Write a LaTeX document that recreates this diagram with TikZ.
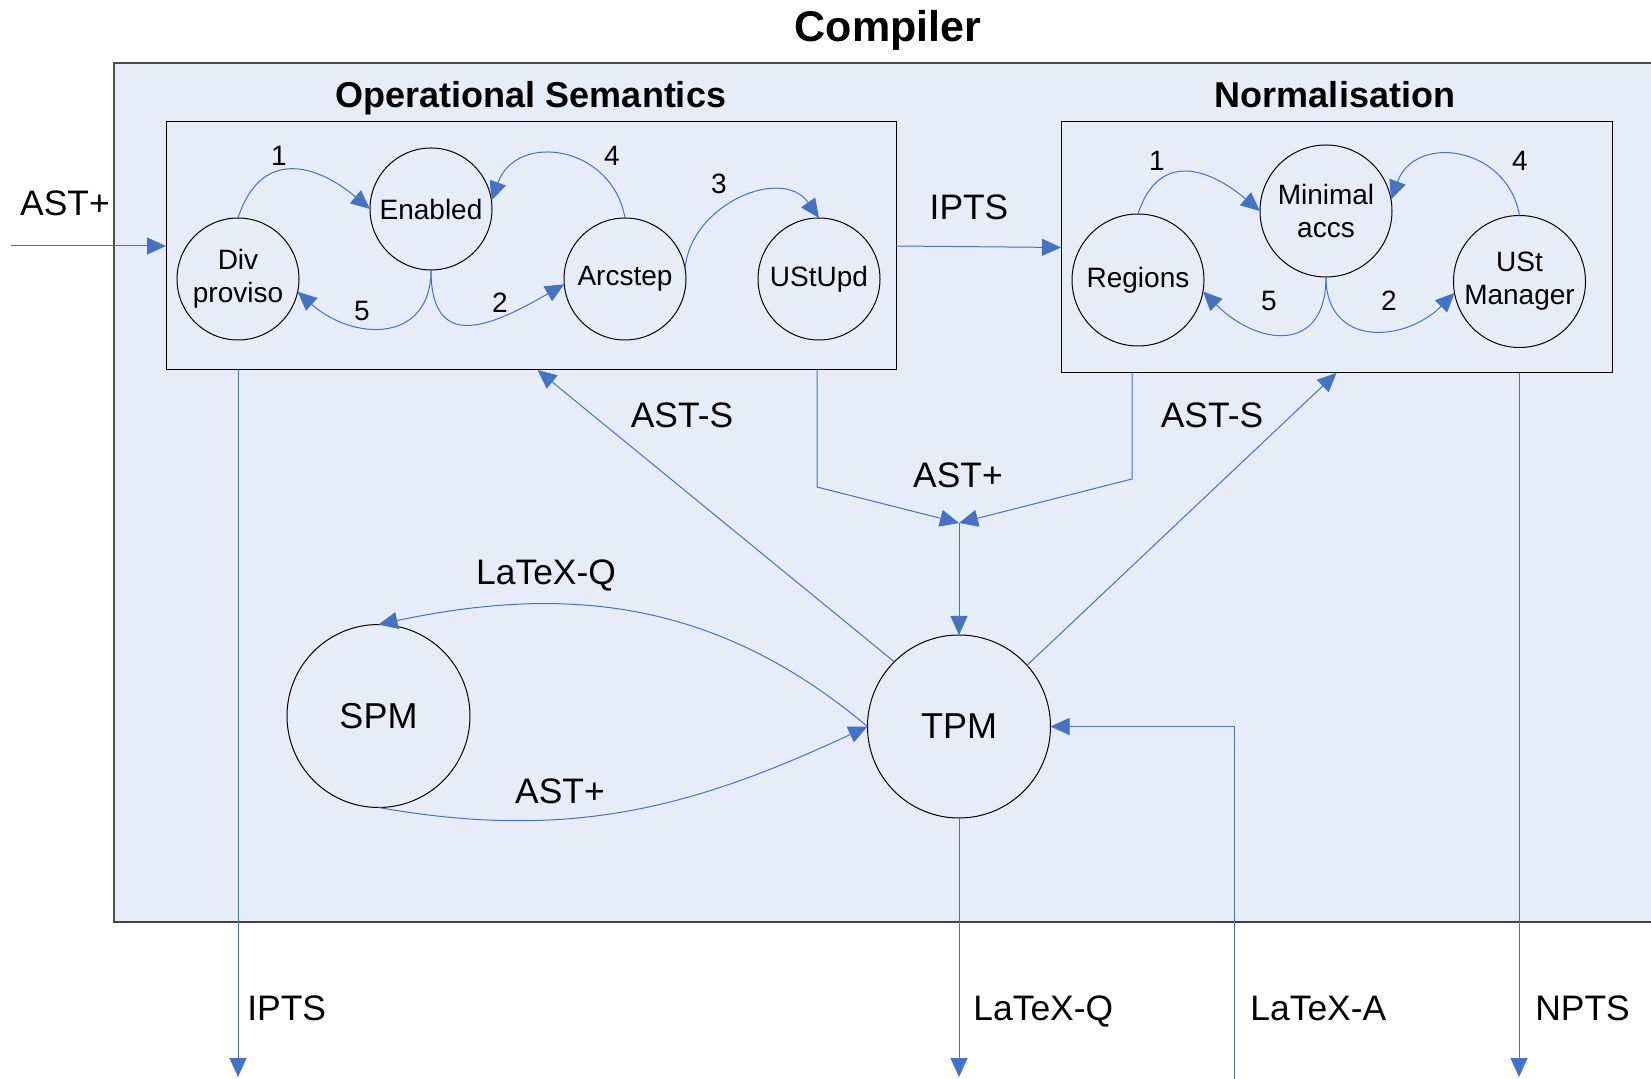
\documentclass[tikz,border=0pt]{standalone}
\usepackage{fontspec}
\setmainfont{Liberation Sans}
\usetikzlibrary{arrows.meta}
\definecolor{boxfill}{RGB}{231,237,248}
\definecolor{flowblue}{RGB}{68,114,196}
\tikzset{
  flow/.style={draw=flowblue, line width=0.5pt, -{Triangle[length=9.5pt,width=8.5pt]}},
  module/.style={draw, line width=0.5pt, inner sep=0pt, outer sep=0pt},
  opstate/.style={circle, draw, line width=0.5pt, minimum size=61pt, inner sep=0pt, outer sep=0pt, align=center, font=\fontsize{14}{16.5}\selectfont},
  nstate/.style={opstate, minimum size=66pt},
  bigstate/.style={opstate, minimum size=91.5pt, font=\fontsize{18}{21}\selectfont},
  num/.style={font=\fontsize{14}{16}\selectfont, inner sep=0pt},
  lbl/.style={font=\fontsize{17.7}{20}\selectfont, inner sep=0pt},
  sect/.style={font=\fontsize{18}{21}\selectfont\bfseries, inner sep=0pt, anchor=base},
}
\begin{document}
\begin{tikzpicture}[x=0.5pt,y=0.5pt]
\useasboundingbox (0,0) rectangle (1651,-1079);
% Compiler
\draw[fill=boxfill, draw=black!70, line width=0.6pt] (114,-63) rectangle (1660,-922);
\draw[black!75, line width=1pt] (114,-922) -- (1660,-922);
\node[sect, font=\fontsize{21.5}{24}\selectfont\bfseries] (comp) at (888,-42) {Compiler};

% Operational Semantics
\node[sect] (optitle) at (531,-107.5) {Operational Semantics};
\node[module, minimum width=365pt, minimum height=124pt] (op) at (531,-246) {};
\node[opstate] (dp) at (238,-279) {Div\\proviso};
\node[opstate] (en) at (431,-209) {Enabled};
\node[opstate] (ar) at (625,-279) {Arcstep};
\node[opstate] (ust) at (819,-279) {UStUpd};

\draw[flow] (dp.north) to[out=72,in=140,looseness=1.4] (en.west);
\draw[flow] (en.south) to[out=-90,in=-150,looseness=1.6] (ar.185);
\draw[flow] (ar.10) to[out=85,in=125,looseness=1.15] (ust.north);
\draw[flow] (ar.north) to[out=100,in=70,looseness=1.4] (en.8);
\draw[flow] (en.south) to[out=-90,in=-42,looseness=1.4] (dp.-12);
\node[num] (op1) at (279,-156) {1};
\node[num] (op2) at (500,-303) {2};
\node[num] (op3) at (719,-184) {3};
\node[num] (op4) at (612,-156) {4};
\node[num] (op5) at (362,-311) {5};

% Normalisation
\node[sect] (ntitle) at (1335,-107.5) {Normalisation};
\node[module, minimum width=275.5pt, minimum height=125.5pt] (norm) at (1336.5,-247.5) {};
\node[nstate] (reg) at (1138,-280) {Regions};
\node[nstate] (mina) at (1326,-211) {Minimal\\accs};
\node[nstate] (man) at (1519.5,-281.5) {USt\\Manager};

\draw[flow] (reg.north) to[out=72,in=140,looseness=1.4] (mina.west);
\draw[flow] (mina.south) to[out=-90,in=-135,looseness=1.4] (man.190);
\draw[flow] (man.north) to[out=100,in=70,looseness=1.4] (mina.10);
\draw[flow] (mina.south) to[out=-90,in=-45,looseness=1.6] (reg.-10);
\node[num] (n1) at (1157,-161) {1};
\node[num] (n2) at (1389,-301) {2};
\node[num] (n4) at (1520,-161) {4};
\node[num] (n5) at (1269,-301) {5};

% SPM / TPM
\node[bigstate] (spm) at (378.5,-716) {SPM};
\node[bigstate] (tpm) at (959,-726.5) {TPM};
\draw[flow] (tpm.west) to[out=140,in=12] (spm.north);
\draw[flow] (spm.south) to[out=-10,in=205] (tpm.west);
\node[lbl] (lq) at (546,-575) {LaTeX-Q};
\node[lbl] (sa) at (560,-791) {AST+};

% between the boxes
\coordinate (astin) at (11,-246);
\draw[flow] (astin) -- (op.west);
\node[lbl] (astinl) at (65,-203) {AST+};
\draw[flow] (op.east) -- (norm.west);
\node[lbl] (iptsl) at (969,-207) {IPTS};

\coordinate (mrg) at (959,-523);
\coordinate (lbend) at (817,-487);
\coordinate (rbend) at (1132,-479);
\draw[flow] (op.south -| lbend) -- (lbend) -- (mrg);
\draw[flow] (norm.south -| rbend) -- (rbend) -- (mrg);
\draw[flow] (mrg) -- (tpm.north);
\node[lbl] (mrgl) at (958,-475) {AST+};

\draw[flow] (tpm.135) -- (op.-87);
\node[lbl] (asl) at (682,-415) {AST-S};
\draw[flow] (tpm.42) -- (norm.south);
\node[lbl] (asr) at (1212,-415) {AST-S};

% outputs
\coordinate (iptsout) at (238,-1077);
\coordinate (lqout) at (959,-1077);
\coordinate (lain) at (1234,-1079);
\coordinate (nptsout) at (1519,-1077);
\draw[flow] (op.south -| iptsout) -- (iptsout);
\draw[flow] (tpm.south) -- (lqout);
\draw[flow] (lain) |- (tpm.east);
\draw[flow] (norm.south -| nptsout) -- (nptsout);
\node[lbl, anchor=base west] (ipo) at (247,-1021) {IPTS};
\node[lbl, anchor=base west] (lqo) at (973,-1021) {LaTeX-Q};
\node[lbl, anchor=base west] (lai) at (1250,-1021) {LaTeX-A};
\node[lbl, anchor=base west] (npo) at (1535,-1021) {NPTS};
\end{tikzpicture}
\end{document}
